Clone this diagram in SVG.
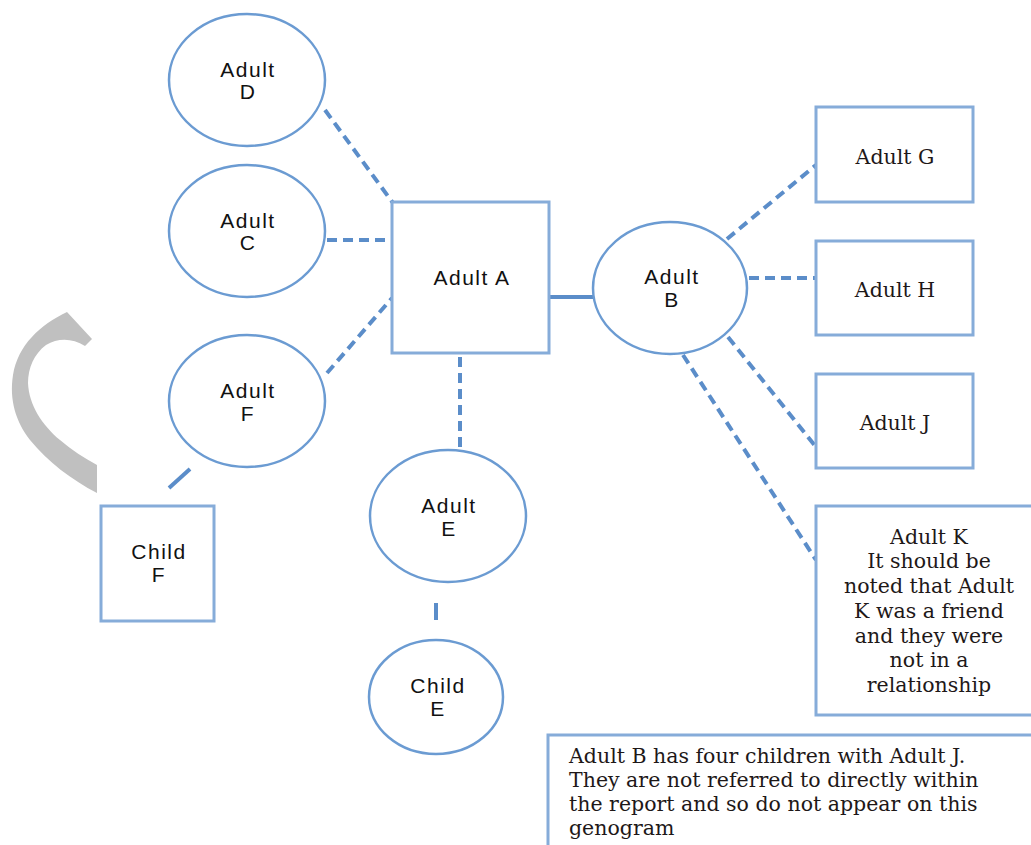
<svg xmlns="http://www.w3.org/2000/svg" width="1031" height="845" viewBox="0 0 1031 845">
<style>
.node{fill:#fff;stroke:#6b9bd2;stroke-width:2.5}
.box{fill:#fff;stroke:#86acd9;stroke-width:3}
.sans{font-family:"Liberation Sans",Arial,sans-serif;font-size:21px;letter-spacing:1.5px;fill:#111;text-anchor:middle}
.serif{font-family:"DejaVu Serif","Liberation Serif",serif;font-size:20.5px;fill:#1e1818;text-anchor:middle}
.note{font-family:"DejaVu Serif","Liberation Serif",serif;font-size:20.5px;fill:#1e1818}
.dash{stroke:#5b8dc9;stroke-width:4;stroke-dasharray:10 6;fill:none}
.solid{stroke:#5b8dc9;stroke-width:4;fill:none}
</style>
<rect width="1031" height="845" fill="#fff"/>
<path d="M67,312 L92,339 L85,346 C72,338 58,338 46,345 C34,354 28,368 28,383 C29,405 42,425 60,440 C72,450 84,458 97,465 L97,493 C72,480 48,462 30,440 C16,422 9,400 13,375 C18,345 40,325 67,312 Z" fill="#c0c0c0"/>
<g id="connectors">
<line class="dash" x1="325" y1="110" x2="393" y2="203"/>
<line class="dash" x1="327" y1="240" x2="392" y2="240"/>
<line class="dash" x1="327" y1="373" x2="392" y2="298"/>
<line class="dash" x1="460" y1="357" x2="460" y2="450"/>
<line class="solid" x1="549" y1="297" x2="593" y2="297"/>
<line class="dash" x1="727" y1="239" x2="816" y2="165"/>
<line class="dash" x1="749" y1="278" x2="816" y2="278"/>
<line class="dash" x1="728" y1="337" x2="816" y2="447"/>
<line class="dash" x1="683" y1="355" x2="816" y2="560"/>
<line class="solid" x1="190" y1="469" x2="169" y2="488"/>
<line class="solid" x1="436" y1="603" x2="436" y2="620"/>
</g>
<g id="adultD"><ellipse class="node" cx="247" cy="80" rx="78" ry="66"/><text class="sans" x="248" y="77">Adult</text><text class="sans" x="248" y="99">D</text></g>
<g id="adultC"><ellipse class="node" cx="247" cy="231" rx="78" ry="66"/><text class="sans" x="248" y="228">Adult</text><text class="sans" x="248" y="250">C</text></g>
<g id="adultF"><ellipse class="node" cx="247" cy="401" rx="78" ry="66"/><text class="sans" x="248" y="398">Adult</text><text class="sans" x="248" y="421">F</text></g>
<g id="adultA"><rect class="box" x="392" y="202" width="157" height="151"/><text class="sans" x="472" y="285">Adult A</text></g>
<g id="adultB"><ellipse class="node" cx="670" cy="288" rx="77" ry="66"/><text class="sans" x="672" y="284">Adult</text><text class="sans" x="672" y="307">B</text></g>
<g id="adultG"><rect class="box" x="816" y="107" width="157" height="95"/><text class="serif" x="895" y="164">Adult G</text></g>
<g id="adultH"><rect class="box" x="816" y="241" width="157" height="94"/><text class="serif" x="895" y="297">Adult H</text></g>
<g id="adultJ"><rect class="box" x="816" y="374" width="157" height="94"/><text class="serif" x="895" y="430">Adult J</text></g>
<g id="adultK"><rect class="box" x="816" y="506" width="230" height="209"/>
<text class="serif" x="929" y="544">Adult K</text>
<text class="serif" x="929" y="568">It should be</text>
<text class="serif" x="929" y="593">noted that Adult</text>
<text class="serif" x="929" y="618">K was a friend</text>
<text class="serif" x="929" y="643">and they were</text>
<text class="serif" x="929" y="667">not in a</text>
<text class="serif" x="929" y="692">relationship</text></g>
<g id="adultE"><ellipse class="node" cx="448" cy="516" rx="78" ry="66"/><text class="sans" x="449" y="513">Adult</text><text class="sans" x="449" y="536">E</text></g>
<g id="childE"><ellipse class="node" cx="436" cy="697" rx="67" ry="57"/><text class="sans" x="438" y="693">Child</text><text class="sans" x="438" y="716">E</text></g>
<g id="childF"><rect class="box" x="101" y="506" width="113" height="115"/><text class="sans" x="159" y="559">Child</text><text class="sans" x="159" y="582">F</text></g>
<g id="note"><rect class="box" x="548" y="735" width="500" height="130"/>
<text class="note" x="569" y="763">Adult B has four children with Adult J.</text>
<text class="note" x="569" y="787">They are not referred to directly within</text>
<text class="note" x="569" y="811">the report and so do not appear on this</text>
<text class="note" x="569" y="835">genogram</text></g>
</svg>
